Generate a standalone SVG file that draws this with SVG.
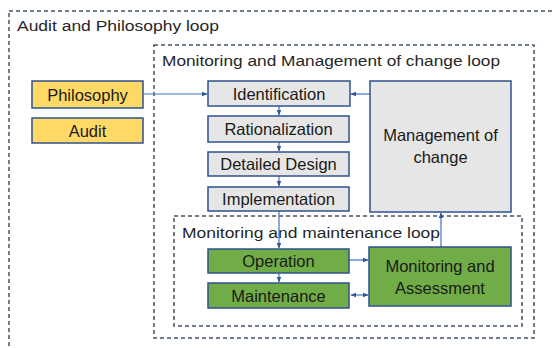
<svg xmlns="http://www.w3.org/2000/svg" width="554" height="348" viewBox="0 0 554 348">
<defs>
<marker id="ah" viewBox="0 0 10 10" refX="9" refY="5" markerWidth="5" markerHeight="5" orient="auto-start-reverse">
<path d="M0,1 L10,5 L0,9 z" fill="#2F5597"/>
</marker>
<style>
.loop{fill:none;stroke:#44546A;stroke-width:1.5;stroke-dasharray:4,3}
.box{stroke:#2F528F;stroke-width:1.5}
.grey{fill:#E7E6E6}
.gold{fill:#FFD966}
.green{fill:#70AD47}
.t{font-family:"Liberation Sans",Arial,sans-serif;font-size:16.5px;fill:#1a1a1a}
.c{text-anchor:middle}
.lt{font-family:"Liberation Sans",Arial,sans-serif;font-size:15.5px;fill:#262626}
.con{stroke:#4472C4;stroke-width:1.2;fill:none;marker-end:url(#ah)}
</style>
</defs>
<rect width="554" height="348" fill="#ffffff"/>
<g id="loops">
<rect class="loop" x="9" y="11" width="560" height="360"/>
<rect class="loop" x="154" y="45" width="380" height="293"/>
<rect class="loop" x="174" y="216" width="348" height="110"/>
<text class="lt" x="17" y="31" textLength="202" lengthAdjust="spacingAndGlyphs">Audit and Philosophy loop</text>
<text class="lt" x="162" y="66" textLength="338" lengthAdjust="spacingAndGlyphs">Monitoring and Management of change loop</text>
<text class="lt" x="182" y="238" textLength="258" lengthAdjust="spacingAndGlyphs">Monitoring and maintenance loop</text>
</g>
<g id="connectors">
<line class="con" x1="143" y1="94" x2="207" y2="94"/>
<line class="con" x1="370" y1="94" x2="351" y2="94"/>
<line class="con" x1="279" y1="106" x2="279" y2="115"/>
<line class="con" x1="279" y1="142" x2="279" y2="151"/>
<line class="con" x1="279" y1="176" x2="279" y2="186"/>
<line class="con" x1="279" y1="211" x2="279" y2="248"/>
<line class="con" x1="279" y1="273" x2="279" y2="282"/>
<line class="con" x1="349" y1="260" x2="368" y2="260"/>
<line class="con" x1="351" y1="295" x2="368" y2="295" style="marker-start:url(#ah)"/>
<line class="con" x1="441" y1="247" x2="441" y2="213"/>
</g>
<g id="philosophy"><rect class="box gold" x="32" y="81" width="111" height="27"/><text class="t c" x="87.5" y="100.5">Philosophy</text></g>
<g id="audit"><rect class="box gold" x="32" y="118" width="111" height="25"/><text class="t c" x="87.5" y="136.5">Audit</text></g>
<g id="identification"><rect class="box grey" x="208" y="81" width="142" height="25"/><text class="t c" x="279" y="99.5">Identification</text></g>
<g id="rationalization"><rect class="box grey" x="208" y="116" width="141" height="26"/><text class="t c" x="278.5" y="135">Rationalization</text></g>
<g id="detailed-design"><rect class="box grey" x="208" y="152" width="141" height="24"/><text class="t c" x="278.5" y="170">Detailed Design</text></g>
<g id="implementation"><rect class="box grey" x="208" y="187" width="141" height="24"/><text class="t c" x="278.5" y="205">Implementation</text></g>
<g id="management"><rect class="box grey" x="370" y="81" width="141" height="131"/><text class="t c" x="440.5" y="141">Management of</text><text class="t c" x="440.5" y="163">change</text></g>
<g id="operation"><rect class="box green" x="208" y="249" width="141" height="24"/><text class="t c" x="278.5" y="267">Operation</text></g>
<g id="maintenance"><rect class="box green" x="208" y="283" width="141" height="25"/><text class="t c" x="278.5" y="301.5">Maintenance</text></g>
<g id="monitoring"><rect class="box green" x="369" y="247" width="142" height="59"/><text class="t c" x="440" y="272">Monitoring and</text><text class="t c" x="440" y="294">Assessment</text></g>
</svg>
